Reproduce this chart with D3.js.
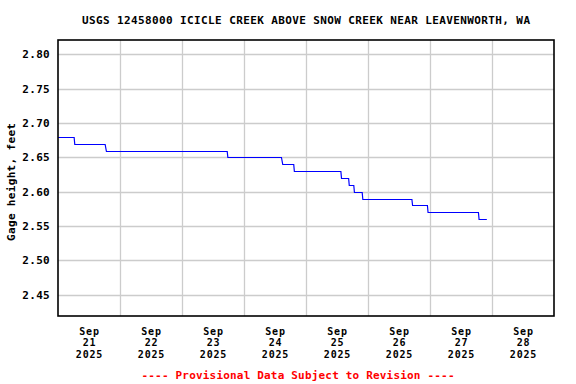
<!DOCTYPE html>
<html><head><meta charset="utf-8">
<script src="https://cdn.jsdelivr.net/npm/d3@7"></script>
<style>
html,body{margin:0;padding:0;background:#fff;}
svg{display:block;}
text{font-family:"DejaVu Sans Mono",monospace;font-weight:bold;}
</style></head>
<body>
<svg id="c" width="576" height="384"></svg>
<script>
// Data (local times of step changes)
const times = [
  "2025-09-21T00:00","2025-09-21T06:15","2025-09-21T06:30",
  "2025-09-21T18:15","2025-09-21T18:45",
  "2025-09-23T17:30","2025-09-23T17:45",
  "2025-09-24T14:30","2025-09-24T15:00",
  "2025-09-24T19:15","2025-09-24T19:30",
  "2025-09-25T13:30","2025-09-25T13:45",
  "2025-09-25T16:30","2025-09-25T16:45",
  "2025-09-25T18:30","2025-09-25T18:45",
  "2025-09-25T21:45","2025-09-25T22:00",
  "2025-09-26T17:00","2025-09-26T17:15",
  "2025-09-26T23:00","2025-09-26T23:15",
  "2025-09-27T18:45","2025-09-27T19:00",
  "2025-09-27T22:00"
];
const values = [
  2.68,2.68,2.67,
  2.67,2.66,
  2.66,2.65,
  2.65,2.64,
  2.64,2.63,
  2.63,2.62,
  2.62,2.61,
  2.61,2.60,
  2.60,2.59,
  2.59,2.58,
  2.58,2.57,
  2.57,2.56,
  2.56
];
const yTicks = [2.45,2.50,2.55,2.60,2.65,2.70,2.75,2.80];
const dayLabels = ["21","22","23","24","25","26","27","28"];
const monthLabel = "Sep";
const yearLabel = "2025";
const title = "USGS 12458000 ICICLE CREEK ABOVE SNOW CREEK NEAR LEAVENWORTH, WA";
const yLabel = "Gage height, feet";
const footer = "---- Provisional Data Subject to Revision ----";

const parse = d3.utcParse("%Y-%m-%dT%H:%M");
const data = times.map((t,i)=>({t:parse(t), v:values[i]}));

const L=58, R=554, T=40, B=316;
const svg = d3.select("#c");
const x = d3.scaleUtc().domain([parse("2025-09-21T00:00"), parse("2025-09-29T00:00")]).range([L,R]);
const y = d3.scaleLinear().domain([2.419, 2.821]).range([B,T]);

// grid
const dayStarts = d3.utcDay.range(parse("2025-09-22T00:00"), parse("2025-09-29T00:00"));
svg.append("g").selectAll("line").data(dayStarts).join("line")
  .attr("x1",d=>Math.round(x(d))+0.5).attr("x2",d=>Math.round(x(d))+0.5)
  .attr("y1",T).attr("y2",B).attr("stroke","#cccccc").attr("stroke-width",1.3);
svg.append("g").selectAll("line").data(yTicks).join("line")
  .attr("y1",d=>Math.round(y(d))+0.5).attr("y2",d=>Math.round(y(d))+0.5)
  .attr("x1",L).attr("x2",R).attr("stroke","#cccccc").attr("stroke-width",1.3);

// line
svg.append("path").datum(data)
  .attr("d", d3.line().x(d=>x(d.t)).y(d=>Math.round(y(d.v))+0.5))
  .attr("fill","none").attr("stroke","#0000ff").attr("stroke-width",1.2);

// frame
svg.append("rect").attr("x",L).attr("y",T).attr("width",R-L).attr("height",B-T)
  .attr("fill","none").attr("stroke","#000").attr("stroke-width",1.6);

// y axis
const ya = svg.append("g").attr("transform",`translate(${L},0)`)
  .call(d3.axisLeft(y).tickValues(yTicks).tickSize(0).tickPadding(8).tickFormat(d3.format(".2f")));
ya.select(".domain").remove();
ya.selectAll("text").attr("font-family","DejaVu Sans Mono").attr("font-weight","bold")
  .attr("font-size",11).attr("fill","#000").attr("letter-spacing","0.3");

// x axis
const noons = dayLabels.map((d,i)=>d3.utcHour.offset(parse("2025-09-21T12:00"), 24*i));
const xa = svg.append("g").attr("transform",`translate(0,${B})`)
  .call(d3.axisBottom(x).tickValues(noons).tickSize(0).tickFormat(""));
xa.select(".domain").remove();
xa.selectAll(".tick").each(function(d,i){
  const g = d3.select(this);
  [[monthLabel,18.5],[dayLabels[i],30.2],[yearLabel,41.9]].forEach(([s,yy])=>{
    g.append("text").attr("fill","#000").attr("text-anchor","middle")
      .attr("font-family","DejaVu Sans Mono").attr("font-weight","bold").attr("font-size",10)
      .attr("letter-spacing","0.8").attr("x",0).attr("y",yy).text(s);
  });
});

// title
svg.append("text").attr("x",306).attr("y",24).attr("text-anchor","middle")
  .attr("font-size",11).attr("textLength",448).attr("lengthAdjust","spacing").text(title);
// y label
svg.append("text").attr("transform","translate(15,182) rotate(-90)").attr("text-anchor","middle")
  .attr("font-size",11).attr("textLength",118).attr("lengthAdjust","spacing").text(yLabel);
// footer
svg.append("text").attr("x",298).attr("y",379).attr("text-anchor","middle").attr("fill","#ff0000")
  .attr("font-size",11).attr("textLength",313).attr("lengthAdjust","spacing").text(footer);
</script>
</body></html>
